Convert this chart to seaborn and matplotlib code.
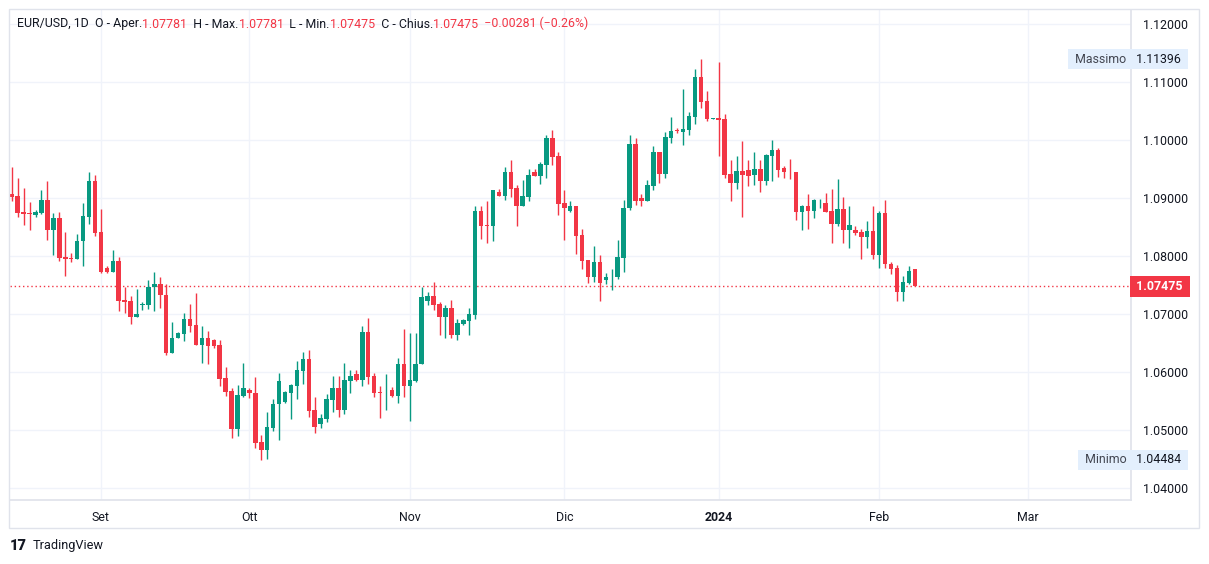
import numpy as np
import pandas as pd
import seaborn as sns
import matplotlib.pyplot as plt
from matplotlib.patches import Rectangle

# daily bars of this feed: every day except Saturday (Sunday bars are tiny)
dates = pd.date_range('2023-08-15', '2024-02-08')
dates = dates[dates.dayofweek != 5]

opens = [1.0907, 1.0903, 1.0875, 1.0874, 1.0870, 1.0874, 1.0897, 1.0845, 1.0866, 1.0798,
         1.0797, 1.0795, 1.0825, 1.0868, 1.0929, 1.0841, 1.0779, 1.0773, 1.0791, 1.0724,
         1.0722, 1.0695, 1.0716, 1.0715, 1.0746, 1.0752, 1.0733, 1.0633, 1.0659, 1.0666,
         1.0691, 1.0681, 1.0647, 1.0659, 1.0655, 1.0647, 1.0590, 1.0567, 1.0502, 1.0559,
         1.0569, 1.0564, 1.0479, 1.0466, 1.0504, 1.0544, 1.0549, 1.0564, 1.0576, 1.0602,
         1.0622, 1.0534, 1.0511, 1.0519, 1.0552, 1.0572, 1.0535, 1.0585, 1.0597, 1.0587,
         1.0669, 1.0593, 1.0566, 1.0563, 1.0569, 1.0559, 1.0614, 1.0576, 1.0585, 1.0613,
         1.0722, 1.0731, 1.0718, 1.0694, 1.0710, 1.0664, 1.0683, 1.0688, 1.0698, 1.0878,
         1.0853, 1.0851, 1.0910, 1.0904, 1.0945, 1.0917, 1.0887, 1.0902, 1.0945, 1.0938,
         1.0957, 1.1003, 1.0972, 1.0891, 1.0878, 1.0886, 1.0836, 1.0793, 1.0764, 1.0790,
         1.0759, 1.0763, 1.0763, 1.0797, 1.0882, 1.0993, 1.0900, 1.0894, 1.0921, 1.0979,
         1.0942, 1.1004, 1.1017, 1.1013, 1.1018, 1.1040, 1.1109, 1.1067, 1.1037, 1.1038,
         1.1036, 1.0941, 1.0925, 1.0946, 1.0948, 1.0940, 1.0950, 1.0930, 1.0972, 1.0983,
         1.0952, 1.0945, 1.0945, 1.0876, 1.0886, 1.0878, 1.0891, 1.0891, 1.0878, 1.0856,
         1.0881, 1.0844, 1.0844, 1.0841, 1.0832, 1.0843, 1.0802, 1.0874, 1.0786, 1.0779,
         1.0738, 1.0754, 1.07781]
highs = [1.0953, 1.0934, 1.0917, 1.0893, 1.0879, 1.0914, 1.0929, 1.0874, 1.0876, 1.0841,
         1.0805, 1.0838, 1.0891, 1.0944, 1.0940, 1.0881, 1.0782, 1.0810, 1.0798, 1.0747,
         1.0731, 1.0743, 1.0721, 1.0759, 1.0772, 1.0764, 1.0752, 1.0686, 1.0669, 1.0702,
         1.0717, 1.0736, 1.0679, 1.0671, 1.0657, 1.0655, 1.0609, 1.0572, 1.0578, 1.0616,
         1.0572, 1.0591, 1.0491, 1.0531, 1.0553, 1.0598, 1.0568, 1.0579, 1.0619, 1.0634,
         1.0638, 1.0557, 1.0528, 1.0562, 1.0593, 1.0593, 1.0616, 1.0603, 1.0603, 1.0679,
         1.0693, 1.0599, 1.0576, 1.0597, 1.0574, 1.0624, 1.0674, 1.0667, 1.0667, 1.0747,
         1.0738, 1.0755, 1.0721, 1.0716, 1.0724, 1.0691, 1.0691, 1.0710, 1.0886, 1.0886,
         1.0895, 1.0914, 1.0916, 1.0953, 1.0966, 1.0922, 1.0931, 1.0950, 1.0950, 1.0962,
         1.1009, 1.1017, 1.0979, 1.0913, 1.0895, 1.0886, 1.0847, 1.0793, 1.0817, 1.0801,
         1.0771, 1.0778, 1.0828, 1.0897, 1.1009, 1.1003, 1.0907, 1.0931, 1.0990, 1.0979,
         1.1014, 1.1040, 1.1021, 1.1088, 1.1048, 1.1122, 1.11396, 1.1084, 1.1038, 1.1134,
         1.1045, 1.0966, 1.0972, 1.0998, 1.0966, 1.0979, 1.0966, 1.0976, 1.1000, 1.0986,
         1.0956, 1.0967, 1.0945, 1.0888, 1.0907, 1.0898, 1.0898, 1.0909, 1.0916, 1.0933,
         1.0902, 1.0886, 1.0852, 1.0847, 1.0860, 1.0886, 1.0878, 1.0897, 1.0790, 1.0784,
         1.0766, 1.0783, 1.07781]
lows = [1.0894, 1.0868, 1.0854, 1.0845, 1.0868, 1.0872, 1.0828, 1.0802, 1.0792, 1.0766,
        1.0789, 1.0795, 1.0782, 1.0856, 1.0835, 1.0771, 1.0771, 1.0773, 1.0706, 1.0702,
        1.0683, 1.0694, 1.0707, 1.0709, 1.0706, 1.0711, 1.0630, 1.0633, 1.0659, 1.0654,
        1.0669, 1.0647, 1.0616, 1.0614, 1.0642, 1.0575, 1.0559, 1.0487, 1.0490, 1.0557,
        1.0555, 1.0469, 1.04484, 1.0450, 1.0499, 1.0482, 1.0547, 1.0519, 1.0554, 1.0580,
        1.0523, 1.0495, 1.0504, 1.0514, 1.0531, 1.0523, 1.0528, 1.0564, 1.0585, 1.0575,
        1.0580, 1.0557, 1.0521, 1.0535, 1.0557, 1.0547, 1.0557, 1.0516, 1.0583, 1.0613,
        1.0716, 1.0707, 1.0664, 1.0659, 1.0659, 1.0655, 1.0681, 1.0664, 1.0692, 1.0830,
        1.0822, 1.0825, 1.0904, 1.0897, 1.0901, 1.0852, 1.0887, 1.0895, 1.0938, 1.0924,
        1.0935, 1.0957, 1.0871, 1.0828, 1.0876, 1.0804, 1.0778, 1.0754, 1.0756, 1.0723,
        1.0751, 1.0742, 1.0761, 1.0773, 1.0880, 1.0888, 1.0887, 1.0894, 1.0914, 1.0926,
        1.0935, 1.0994, 1.1012, 1.0992, 1.1009, 1.1028, 1.1056, 1.1033, 1.1037, 1.0973,
        1.0935, 1.0894, 1.0916, 1.0868, 1.0921, 1.0923, 1.0911, 1.0923, 1.0930, 1.0937,
        1.0935, 1.0933, 1.0862, 1.0845, 1.0847, 1.0866, 1.0883, 1.0876, 1.0822, 1.0851,
        1.0822, 1.0814, 1.0837, 1.0795, 1.0814, 1.0795, 1.0780, 1.0780, 1.0769, 1.0723,
        1.0723, 1.0752, 1.07475]
closes = [1.0902, 1.0874, 1.0873, 1.0872, 1.0875, 1.0897, 1.0845, 1.0866, 1.0797, 1.0794,
          1.0795, 1.0826, 1.0869, 1.0929, 1.0840, 1.0773, 1.0773, 1.0791, 1.0723, 1.0721,
          1.0695, 1.0700, 1.0717, 1.0746, 1.0752, 1.0732, 1.0633, 1.0659, 1.0667, 1.0691,
          1.0680, 1.0647, 1.0659, 1.0644, 1.0645, 1.0588, 1.0566, 1.0502, 1.0560, 1.0572,
          1.0563, 1.0478, 1.0466, 1.0505, 1.0545, 1.0584, 1.0566, 1.0578, 1.0603, 1.0622,
          1.0533, 1.0506, 1.0521, 1.0553, 1.0572, 1.0535, 1.0586, 1.0593, 1.0587, 1.0669,
          1.0592, 1.0564, 1.0563, 1.0564, 1.0559, 1.0614, 1.0576, 1.0586, 1.0614, 1.0729,
          1.0731, 1.0716, 1.0694, 1.0710, 1.0664, 1.0684, 1.0690, 1.0700, 1.0878, 1.0852,
          1.0851, 1.0914, 1.0904, 1.0945, 1.0916, 1.0887, 1.0903, 1.0940, 1.0938, 1.0959,
          1.1003, 1.0971, 1.0890, 1.0882, 1.0886, 1.0835, 1.0792, 1.0764, 1.0790, 1.0754,
          1.0764, 1.0764, 1.0798, 1.0883, 1.0993, 1.0894, 1.0894, 1.0922, 1.0979, 1.0942,
          1.1005, 1.1016, 1.1016, 1.1019, 1.1041, 1.1109, 1.1066, 1.1037, 1.1038, 1.1035,
          1.0940, 1.0925, 1.0946, 1.0940, 1.0938, 1.0950, 1.0930, 1.0974, 1.0983, 1.0949,
          1.0944, 1.0944, 1.0876, 1.0886, 1.0878, 1.0897, 1.0892, 1.0876, 1.0856, 1.0881,
          1.0844, 1.0853, 1.0840, 1.0832, 1.0843, 1.0802, 1.0874, 1.0787, 1.0778, 1.0738,
          1.0755, 1.0774, 1.07475]

month_labels = ['Set', 'Ott', 'Nov', 'Dic', '2024', 'Feb', 'Mar']
month_starts = ['2023-09-01', '2023-10-01', '2023-11-01', '2023-12-01',
                '2024-01-01', '2024-02-01', '2024-03-01']
price_ticks = [1.04, 1.05, 1.06, 1.07, 1.08, 1.09, 1.10, 1.11, 1.12]
last_price = 1.07475
max_price = 1.11396
min_price = 1.04484
header_parts = [('EUR/USD, 1D  O - Aper.', 'k'), ('1.07781', 'r'), ('  H - Max.', 'k'),
                ('1.07781', 'r'), ('  L - Min.', 'k'), ('1.07475', 'r'), ('  C - Chius.', 'k'),
                ('1.07475', 'r'), ('  \u22120.00281 (\u22120.26%)', 'r')]

GREEN = '#089981'
RED = '#f23645'
TEXT = '#131722'
GRID = '#f0f3fa'
FS = 8.9

df = pd.DataFrame({'date': dates, 'o': opens, 'h': highs, 'l': lows, 'c': closes})
df['x'] = np.arange(len(df))
df['up'] = df['c'] >= df['o']
df['color'] = np.where(df['up'], GREEN, RED)

sns.set_theme(style='white')
plt.rcParams['font.family'] = ['Roboto', 'DejaVu Sans']

W, H = 1209, 564
fig = plt.figure(figsize=(W / 100, H / 100), dpi=100)
fig.patch.set_facecolor('white')
ax = fig.add_axes([10 / W, 1 - 500 / H, (1131 - 10) / W, (500 - 10) / H])

# month ticks positioned on the bar index (extended past the last bar)
all_days = pd.date_range('2023-08-15', '2024-03-31')
all_days = all_days[all_days.dayofweek != 5]
month_pos = all_days.searchsorted(pd.to_datetime(month_starts))

ax.set_xlim(-0.3, 188.4)
ax.set_ylim(1.03793, 1.12241)

for p in price_ticks:
    ax.axhline(p, color=GRID, lw=1, zorder=0)
for m in month_pos:
    ax.axvline(m, color=GRID, lw=1, zorder=0)

# candles
ax.vlines(df['x'], df['l'], df['h'], colors=df['color'], lw=1, zorder=2)
body_low = np.minimum(df['o'], df['c'])
body_h = np.maximum((df['c'] - df['o']).abs(), 0.00012)
ax.bar(df['x'], body_h, bottom=body_low, width=0.76, color=df['color'],
       edgecolor='none', zorder=3)

# last price line
ax.axhline(last_price, color=RED, lw=1, ls=(0, (1, 2)), zorder=1)

ax.yaxis.tick_right()
ax.set_yticks(price_ticks)
ax.set_yticklabels([f'{p:.5f}' for p in price_ticks])
ax.set_xticks(month_pos)
ax.set_xticklabels(month_labels)
for lab in ax.get_xticklabels():
    if lab.get_text() == '2024':
        lab.set_fontweight('bold')
ax.tick_params(axis='y', length=0, pad=9, labelsize=FS, labelcolor=TEXT)
ax.tick_params(axis='x', length=0, pad=8, labelsize=FS, labelcolor=TEXT)
for s in ['top', 'left']:
    ax.spines[s].set_visible(False)
ax.spines['right'].set_color('#e0e3eb')
ax.spines['bottom'].set_color('#e0e3eb')
ax.set_xlabel('')
ax.set_ylabel('')

# price scale badges
ytr = ax.get_yaxis_transform()
ax.text(1.002, last_price, ' 1.07475 ', transform=ytr, va='center', ha='left',
        fontsize=FS, color='white', fontweight='bold',
        bbox=dict(boxstyle='square,pad=0.3', fc=RED, ec='none'))
for lab, val in [('Massimo', max_price), ('Minimo', min_price)]:
    ax.text(1.002, val, f' {val:.5f} ', transform=ytr, va='center', ha='left',
            fontsize=FS, color=TEXT,
            bbox=dict(boxstyle='square,pad=0.3', fc='#e3effd', ec='none'))
    ax.text(0.9985, val, f' {lab} ', transform=ytr, va='center', ha='right',
            fontsize=FS, color='#434651', zorder=5,
            bbox=dict(boxstyle='square,pad=0.3', fc='#e3effd', ec='none'))

# header legend, pieces chained left to right
colmap = {'k': TEXT, 'r': RED}
prev = fig.text(17 / W, 1 - 24 / H, header_parts[0][0], fontsize=FS,
                color=colmap[header_parts[0][1]], va='center', ha='left')
for s, c in header_parts[1:]:
    prev = ax.annotate(s, xy=(1, 0), xycoords=prev, va='bottom', ha='left',
                       fontsize=FS, color=colmap[c], annotation_clip=False)

# outer frame and logo
fig.patches.append(Rectangle((9 / W, 1 - 528 / H), (1199 - 9) / W, (528 - 9) / H,
                             transform=fig.transFigure, fill=False, ec='#e0e3eb', lw=1))
fig.text(10 / W, 1 - 546 / H, '17', fontsize=10.5, fontweight='heavy', color=TEXT,
         va='center', ha='left')
fig.text(33 / W, 1 - 546 / H, 'TradingView', fontsize=9.2, color=TEXT,
         va='center', ha='left')

fig.savefig('out.png', dpi=100, facecolor='white')
